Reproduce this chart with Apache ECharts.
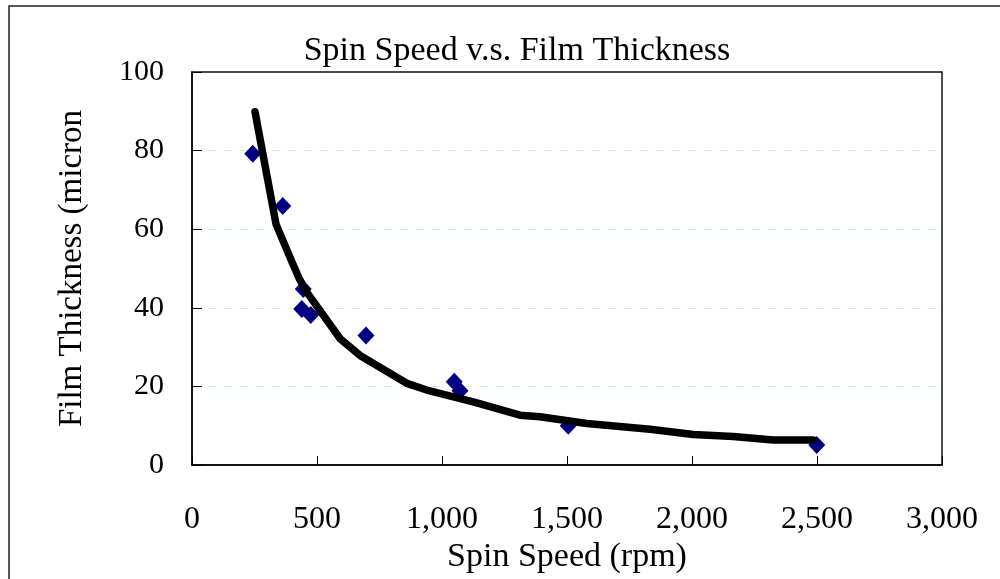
<!DOCTYPE html>
<html>
<head>
<meta charset="utf-8">
<script src="https://cdn.jsdelivr.net/npm/echarts@6/dist/echarts.min.js"></script>
<style>html,body{margin:0;padding:0;background:#fff;}#c{width:1000px;height:579px;}</style>
</head>
<body>
<div id="c"></div>
<script>
// Measured data points
const speedPoints = [243, 363, 445, 439, 475, 696, 1049, 1072, 1505, 2499];
const thicknessPoints = [79.2, 65.9, 44.8, 39.7, 38.2, 33.0, 21.2, 18.9, 10.0, 5.1];
// Trend curve
const trendSpeed = [252, 336, 395, 430, 459, 592, 672, 859, 939, 1125, 1312, 1392, 1579, 1832, 2005, 2165, 2325, 2485];
const trendThickness = [89.9, 61.3, 52.4, 47.3, 44.0, 32.2, 27.9, 20.8, 19.1, 16.1, 12.7, 12.3, 10.6, 9.1, 7.8, 7.3, 6.4, 6.4];
const xTicks = [0, 500, 1000, 1500, 2000, 2500, 3000];
const yTicks = [0, 20, 40, 60, 80, 100];

const FONT = "'Liberation Serif', 'Times New Roman', serif";
const chart = echarts.init(document.getElementById('c'), null, {renderer: 'canvas'});
chart.setOption({
  backgroundColor: '#fff',
  animation: false,
  title: {
    text: 'Spin Speed v.s. Film Thickness',
    left: 512, top: 29, textAlign: 'center',
    textStyle: {fontFamily: FONT, fontSize: 34, fontWeight: 'normal', color: '#000'}
  },
  graphic: [{
    type: 'rect', shape: {x: 9, y: 6, width: 1010, height: 600},
    style: {fill: 'none', stroke: '#222', lineWidth: 1.5}, silent: true, z: -1
  }],
  grid: {left: 192, top: 72, width: 750, height: 395, show: true, borderColor: '#111', borderWidth: 1.5, backgroundColor: 'transparent'},
  xAxis: {
    type: 'value', min: xTicks[0], max: xTicks[xTicks.length - 1], interval: 500,
    name: 'Spin Speed (rpm)', nameLocation: 'middle', nameGap: 64,
    nameTextStyle: {fontFamily: FONT, fontSize: 34, color: '#000'},
    axisLine: {lineStyle: {color: '#000', width: 1.5}},
    axisTick: {inside: true, length: 9, lineStyle: {color: '#000'}},
    axisLabel: {fontFamily: FONT, fontSize: 32, color: '#000', margin: 38,
      formatter: v => v.toLocaleString('en-US')},
    splitLine: {show: false}
  },
  yAxis: {
    type: 'value', min: yTicks[0], max: yTicks[yTicks.length - 1], interval: 20,
    name: 'Film Thickness (micron', nameLocation: 'middle', nameGap: 103, nameRotate: 90,
    nameTextStyle: {fontFamily: FONT, fontSize: 33, color: '#000'},
    axisLine: {lineStyle: {color: '#000', width: 1.5}},
    axisTick: {inside: true, length: 10, lineStyle: {color: '#000'}},
    axisLabel: {fontFamily: FONT, fontSize: 30, color: '#000', margin: 28},
    splitLine: {show: true, showMinLine: false, showMaxLine: false, lineStyle: {color: '#ccf5cc', type: [8, 8], width: 1}}
  },
  series: [
    {
      type: 'scatter', symbol: 'diamond', symbolSize: [17, 18],
      itemStyle: {color: '#000080', opacity: 1},
      data: speedPoints.map((x, i) => [x, thicknessPoints[i]]), z: 2
    },
    {
      type: 'line', showSymbol: false, symbol: 'none', smooth: false,
      lineStyle: {color: '#000', width: 7.5, cap: 'round', join: 'round'},
      data: trendSpeed.map((x, i) => [x, trendThickness[i]]), z: 3
    }
  ]
});
</script>
</body>
</html>
